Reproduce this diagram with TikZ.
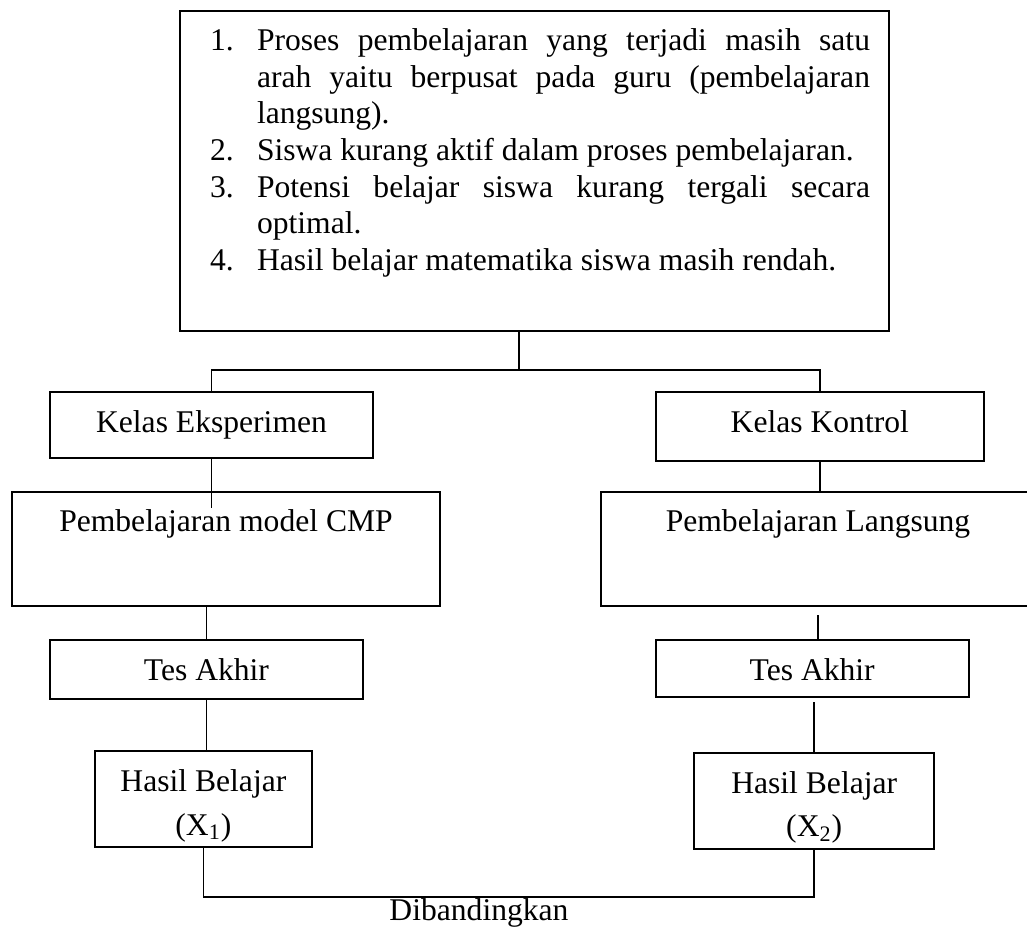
\documentclass[tikz,border=0pt]{standalone}
\usepackage{fontspec}
\setmainfont{Liberation Serif}
\usepackage{enumitem}
\usetikzlibrary{calc}

\begin{document}
\begin{tikzpicture}[x=0.5pt,y=-0.5pt,
  kotak/.style={draw, line width=1pt, inner sep=0pt,
    font=\fontsize{15.8}{18.3}\selectfont},
  garis/.style={line width=0.8pt}]
  \useasboundingbox (0,0) rectangle (1027,927);
  % kotak masalah
  \node[kotak, minimum width=354.5pt, text height=19.85pt, text depth=140.15pt]
    (masalah) at (534.5,171) {\hspace*{5.5pt}\begin{minipage}[t]{330pt}
      \tolerance=10000 \hyphenpenalty=10000
      \begin{enumerate}[label=\arabic*., leftmargin=23.5pt, labelwidth=23.5pt,
        labelsep=0pt, align=left, nosep]
      \item Proses pembelajaran yang terjadi masih satu\linebreak
        arah yaitu berpusat pada guru (pembelajaran\linebreak langsung).
      \item Siswa kurang aktif dalam proses pembelajaran.
      \item Potensi belajar siswa kurang tergali secara\linebreak optimal.
      \item Hasil belajar matematika siswa masih rendah.
      \end{enumerate}
    \end{minipage}};
  % kelas
  \node[kotak, minimum width=161.5pt, text height=20.15pt, text depth=13pt]
    (eks) at (211.5,424.85) {Kelas Eksperimen};
  \node[kotak, minimum width=164.2pt, text height=20.15pt, text depth=14.35pt]
    (kon) at (819.8,426.2) {Kelas Kontrol};
  % pembelajaran
  \node[kotak, minimum width=214pt, text height=19.65pt, text depth=37.35pt]
    (cmp) at (226,548.7) {Pembelajaran model CMP};
  \node[kotak, minimum width=217pt, text height=19.65pt, text depth=37.35pt]
    (lang) at (818,548.7) {Pembelajaran Langsung};
  % tes akhir
  \node[kotak, minimum width=156.5pt, text height=20pt, text depth=9.65pt]
    (tes1) at (206.5,669.65) {Tes Akhir};
  \node[kotak, minimum width=156.5pt, text height=20pt, text depth=8.65pt]
    (tes2) at (812.2,668.65) {Tes Akhir};
  % hasil belajar
  \node[kotak, align=center, font=\fontsize{15.8}{21.65}\selectfont,
    minimum width=108.35pt, text height=42.15pt, text depth=5.85pt]
    (has1) at (203.4,798.7) {Hasil Belajar\\(X\textsubscript{1})};
  \node[kotak, align=center, font=\fontsize{15.8}{21.65}\selectfont,
    minimum width=120.15pt, text height=41.7pt, text depth=6.3pt]
    (has2) at (814.2,801.3) {Hasil Belajar\\(X\textsubscript{2})};
  \node[anchor=base, font=\fontsize{15.8}{18.3}\selectfont]
    (banding) at (479,920) {Dibandingkan};
  \coordinate (bagi) at (519,370);
  \coordinate (bawah) at (508,897);
  % garis
  \draw[garis] (masalah.south -| bagi) -- (bagi);
  \draw[garis] (eks.north) -- (eks.north |- bagi) -- (kon.north |- bagi) -- (kon.north);
  \draw[garis] (eks.south) -- ($(eks.south |- cmp.north)+(0,17.3)$);
  \draw[garis] (kon.south) -- (kon.south |- lang.north);
  \draw[garis] (tes1.north |- cmp.south) -- (tes1.north);
  \draw[garis] ($(lang.south)+(0,8.3)$) -- (lang.south |- tes2.north);
  \draw[garis] (tes1.south) -- (tes1.south |- has1.north);
  \draw[garis] ($(has2.north |- tes2.south)+(0,3.7)$) -- (has2.north);
  \draw[garis] (has1.south) -- (has1.south |- bawah) -- (has2.south |- bawah) -- (has2.south);
\end{tikzpicture}
\end{document}
